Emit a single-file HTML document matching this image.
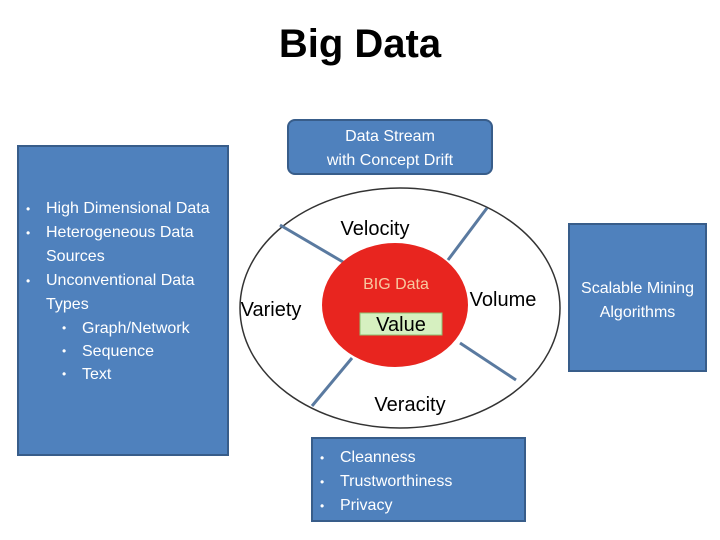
<!DOCTYPE html>
<html><head><style>
body{margin:0;width:720px;height:540px;background:#fff;position:relative;font-family:"Liberation Sans","DejaVu Sans",sans-serif;overflow:hidden}
.b{position:absolute;background:#4f81bd;border:2px solid #385d8a;box-sizing:border-box;color:#fff;font-size:16px}
ul{margin:0;padding:0;list-style:none}
li{position:relative;line-height:24px}
li:before{content:"•";position:absolute;left:-20px;font-size:12px}
</style></head><body>
<div style="position:absolute;left:0;width:720px;top:22px;text-align:center;font-weight:bold;font-size:40px">Big Data</div>
<div class="b" style="left:287px;top:119px;width:206px;height:56px;border-radius:8px;text-align:center;line-height:24px;padding-top:4px">Data Stream<br>with Concept Drift</div>
<div class="b" style="left:17px;top:145px;width:212px;height:311px;padding:50px 0 0 27px">
<ul><li>High Dimensional Data</li><li>Heterogeneous Data Sources</li><li>Unconventional Data Types</li></ul>
<ul style="padding-left:36px;font-size:16px;line-height:23px"><li style="line-height:23px">Graph/Network</li><li style="line-height:23px">Sequence</li><li style="line-height:23px">Text</li></ul>
</div>
<div class="b" style="left:568px;top:223px;width:139px;height:149px;text-align:center;line-height:24px;padding-top:52px">Scalable Mining Algorithms</div>
<div class="b" style="left:311px;top:437px;width:215px;height:85px;padding:7px 0 0 27px"><ul><li>Cleanness</li><li>Trustworthiness</li><li>Privacy</li></ul></div>
<svg width="720" height="540" style="position:absolute;left:0;top:0">
<ellipse cx="400" cy="308" rx="160" ry="120" fill="#fff" stroke="#333" stroke-width="1.5"/>
<g stroke="#5a7aa0" stroke-width="3">
<line x1="280" y1="225" x2="343" y2="262"/><line x1="487" y1="208" x2="448" y2="260"/>
<line x1="460" y1="343" x2="516" y2="380"/><line x1="352" y1="358" x2="312" y2="406"/></g>
<ellipse cx="395" cy="305" rx="73" ry="62" fill="#e8251f"/>
<rect x="360" y="313" width="82" height="22" fill="#d6f0c0" stroke="#8fbf70"/>
<g font-family="Liberation Sans,sans-serif" font-size="20" fill="#000" text-anchor="middle">
<text x="375" y="235">Velocity</text><text x="271" y="316">Variety</text>
<text x="503" y="306">Volume</text><text x="410" y="411">Veracity</text>
<text x="401" y="331">Value</text></g>
<text x="396" y="289" font-family="Liberation Sans,sans-serif" font-size="16" fill="#f8c8a0" text-anchor="middle">BIG Data</text>
</svg>
</body></html>
